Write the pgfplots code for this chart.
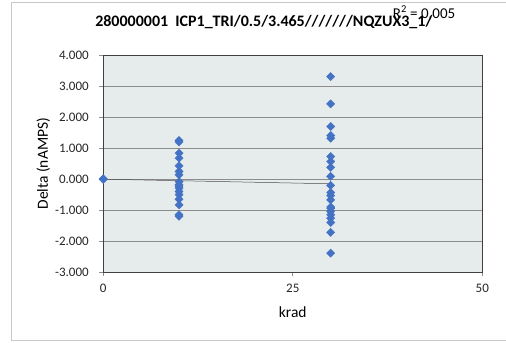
\documentclass[border=0pt]{standalone}
\usepackage{fontspec}
\setmainfont{Carlito}
\usepackage{pgfplots}
\pgfplotsset{compat=1.18}

\definecolor{markblue}{HTML}{4472C4}
\definecolor{plotbg}{HTML}{E6ECEC}
\definecolor{gridgray}{HTML}{8C8C8C}
\definecolor{framegray}{HTML}{C8C8C8}

\begin{document}
\begin{tikzpicture}[x=1pt,y=1pt]
  \path (0,0) rectangle (506,343);
  % outer chart frame (runs off the right edge, as in the original)
  \draw[framegray, line width=0.8pt] (506,341) -- (11,341) -- (11,2) -- (506,2);

  \node[font=\bfseries\fontsize{16}{18}\selectfont] at (264,321) {280000001\ \ ICP1\_TRI/0.5/3.465///////NQZUX3\_1/};
  \node[font=\fontsize{15}{17}\selectfont, anchor=west, inner sep=0pt] at (393,330) {R\textsuperscript{2} = 0,005};

  \begin{axis}[
      at={(103.3pt,70.7pt)}, anchor=south west,
      scale only axis,
      width=379.4pt, height=217pt,
      xmin=0, xmax=50,
      ymin=-3, ymax=4,
      xtick={0,25,50},
      ytick={-3,-2,-1,0,1,2,3,4},
      ymajorgrids,
      grid style={gridgray, line width=0.6pt},
      axis background/.style={fill=plotbg},
      axis line style={black!75, line width=1pt},
      tick align=outside,
      major tick length=4pt,
      tick style={gridgray, line width=0.6pt},
      xtick pos=bottom, ytick pos=left,
      /pgf/number format/assume math mode=true,
      tick label style={font=\fontsize{13}{15}\selectfont, text=black!85},
      yticklabel style={xshift=-7pt, /pgf/number format/fixed,
        /pgf/number format/fixed zerofill, /pgf/number format/precision=3},
      xticklabel style={yshift=-4pt},
      xlabel={krad},
      ylabel={Delta (nAMPS)},
      label style={font=\fontsize{15.5}{17}\selectfont},
      xlabel style={at={(axis description cs:0.5,-0.184)}, anchor=center},
      ylabel style={at={(axis description cs:-0.158,0.5)}, anchor=center},
    ]
    % linear trend line
    \addplot[black!70, line width=0.5pt] coordinates {(0,0.0) (30,-0.15)};

    \addplot[only marks, mark=square*, mark size=2.9pt,
             mark options={rotate=45, fill=markblue, draw=markblue}]
    coordinates {
      (0,0.00) (0,0.00) (0,0.01)
      (10,1.25) (10,1.20) (10,0.84) (10,0.68) (10,0.43) (10,0.25) (10,0.14)
      (10,-0.08) (10,-0.18) (10,-0.22) (10,-0.29) (10,-0.40) (10,-0.50)
      (10,-0.65) (10,-0.83) (10,-1.15) (10,-1.20)
      (30,3.31) (30,2.43) (30,1.70) (30,1.41) (30,1.32) (30,0.73) (30,0.57)
      (30,0.38) (30,0.09) (30,-0.20) (30,-0.43) (30,-0.53) (30,-0.67)
      (30,-0.90) (30,-0.94) (30,-1.04) (30,-1.15) (30,-1.26) (30,-1.40)
      (30,-1.72) (30,-2.39)
    };
  \end{axis}
\end{tikzpicture}
\end{document}
